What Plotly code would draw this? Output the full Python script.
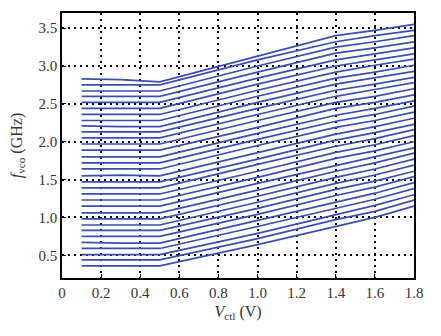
import plotly.graph_objects as go

# Control voltage sample points (V)
v_ctl = [0.1, 0.3, 0.5, 1.0, 1.4, 1.6, 1.8]

# Oscillation frequency (GHz) for each tuning code, top curve first
f_vco = [
    [2.83, 2.82, 2.79, 3.13, 3.40, 3.47, 3.55],
    [2.75, 2.75, 2.75, 3.08, 3.32, 3.40, 3.47],
    [2.67, 2.67, 2.67, 3.00, 3.25, 3.32, 3.40],
    [2.60, 2.60, 2.60, 2.92, 3.17, 3.24, 3.32],
    [2.52, 2.52, 2.52, 2.84, 3.08, 3.16, 3.24],
    [2.44, 2.44, 2.44, 2.76, 3.00, 3.08, 3.16],
    [2.36, 2.36, 2.36, 2.68, 2.92, 3.01, 3.09],
    [2.28, 2.28, 2.28, 2.60, 2.84, 2.92, 3.01],
    [2.21, 2.20, 2.20, 2.52, 2.76, 2.84, 2.93],
    [2.13, 2.13, 2.13, 2.44, 2.68, 2.76, 2.85],
    [2.05, 2.05, 2.05, 2.36, 2.60, 2.69, 2.78],
    [1.97, 1.97, 1.97, 2.28, 2.52, 2.60, 2.70],
    [1.89, 1.89, 1.89, 2.19, 2.44, 2.52, 2.62],
    [1.80, 1.80, 1.80, 2.11, 2.35, 2.44, 2.54],
    [1.72, 1.72, 1.72, 2.03, 2.27, 2.36, 2.47],
    [1.64, 1.64, 1.64, 1.95, 2.19, 2.28, 2.39],
    [1.55, 1.56, 1.55, 1.86, 2.10, 2.20, 2.31],
    [1.47, 1.47, 1.47, 1.77, 2.02, 2.12, 2.23],
    [1.39, 1.39, 1.39, 1.70, 1.94, 2.04, 2.16],
    [1.31, 1.31, 1.31, 1.61, 1.86, 1.96, 2.08],
    [1.23, 1.23, 1.23, 1.53, 1.78, 1.88, 2.00],
    [1.15, 1.15, 1.15, 1.45, 1.69, 1.80, 1.92],
    [1.06, 1.06, 1.06, 1.36, 1.61, 1.72, 1.85],
    [0.98, 0.98, 0.98, 1.28, 1.53, 1.64, 1.77],
    [0.90, 0.90, 0.90, 1.20, 1.45, 1.56, 1.69],
    [0.83, 0.83, 0.83, 1.12, 1.37, 1.48, 1.61],
    [0.75, 0.75, 0.75, 1.04, 1.29, 1.40, 1.54],
    [0.67, 0.66, 0.66, 0.96, 1.21, 1.32, 1.46],
    [0.59, 0.59, 0.59, 0.88, 1.12, 1.24, 1.38],
    [0.51, 0.51, 0.51, 0.79, 1.04, 1.16, 1.30],
    [0.44, 0.44, 0.44, 0.72, 0.97, 1.08, 1.23],
    [0.36, 0.36, 0.36, 0.64, 0.88, 1.00, 1.15],
]

x_ticks = [0, 0.2, 0.4, 0.6, 0.8, 1.0, 1.2, 1.4, 1.6, 1.8]
x_tick_text = ["0", "0.2", "0.4", "0.6", "0.8", "1.0", "1.2", "1.4", "1.6", "1.8"]
y_ticks = [0.5, 1.0, 1.5, 2.0, 2.5, 3.0, 3.5]
y_tick_text = ["0.5", "1.0", "1.5", "2.0", "2.5", "3.0", "3.5"]

fig = go.Figure()
for curve in f_vco:
    fig.add_trace(go.Scatter(
        x=v_ctl, y=curve, mode="lines",
        line=dict(color="#3b4db0", width=1.7),
        showlegend=False, hoverinfo="skip",
    ))

font = "Liberation Serif, Times New Roman, serif"
axis_common = dict(
    showline=True, linecolor="black", linewidth=1.5, mirror=True,
    showgrid=True, gridcolor="black", griddash="2px,4px", gridwidth=1.5,
    ticks="inside", ticklen=4, tickcolor="black",
    zeroline=False,
    tickfont=dict(family=font, size=15, color="#333"),
)

fig.update_layout(
    width=441, height=336,
    margin=dict(l=62, r=27, t=13, b=58),
    paper_bgcolor="white", plot_bgcolor="white",
    xaxis=dict(
        range=[0, 1.8], tickvals=x_ticks, ticktext=x_tick_text,
        title=dict(text="<i>V</i><sub>ctl</sub> (V)",
                   font=dict(family=font, size=16, color="#333"), standoff=6),
        **axis_common,
    ),
    yaxis=dict(
        range=[0.2, 3.7], tickvals=y_ticks, ticktext=y_tick_text,
        title=dict(text="<i>f</i><sub>vco</sub> (GHz)",
                   font=dict(family=font, size=16, color="#333"), standoff=12),
        **axis_common,
    ),
)

fig.write_html("out.html")
